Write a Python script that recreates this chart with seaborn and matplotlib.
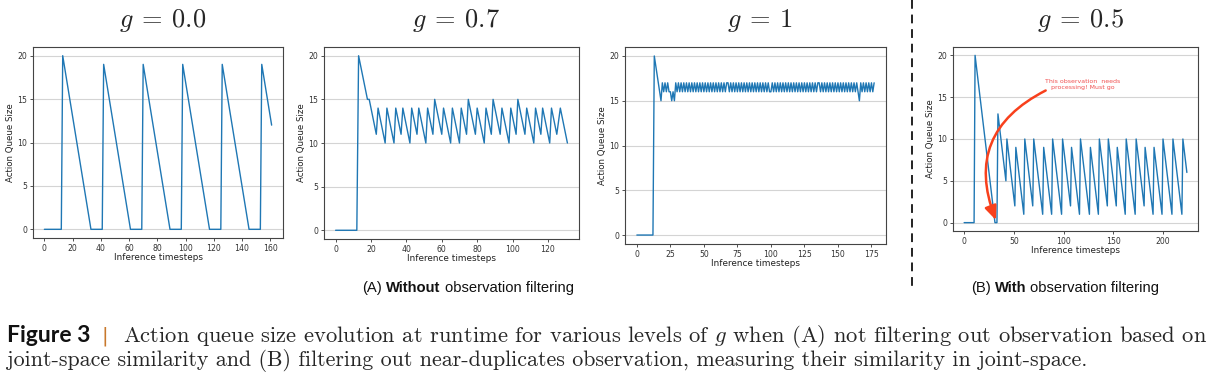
import numpy as np
import matplotlib.pyplot as plt
from matplotlib.lines import Line2D
from matplotlib.offsetbox import TextArea, HPacker, AnnotationBbox
import seaborn as sns

# (A) g = 0.0 : vertices of the queue-size trace (timestep, size)
g00_t = [0, 12, 13, 33, 41, 42, 61, 69, 70, 89, 97, 98, 117, 125, 126, 145, 153, 154, 161]
g00_q = [0, 0, 20, 0, 0, 19, 0, 0, 19, 0, 0, 19, 0, 0, 19, 0, 0, 19, 12]

# (A) g = 0.7
g07_t = [0, 12, 13, 18, 19, 23, 24, 28, 29, 33, 34, 37, 38, 42, 43, 46, 47, 51, 52, 55,
         56, 60, 61, 65, 66, 70, 71, 74, 75, 79, 80, 84, 85, 88, 89, 93, 94, 98, 99, 102,
         103, 107, 108, 112, 113, 116, 117, 121, 122, 125, 127, 131]
g07_q = [0, 0, 20, 15, 15, 11, 14, 10, 14, 10, 14, 11, 14, 10, 14, 11, 14, 10, 14, 11,
         15, 11, 14, 10, 14, 10, 14, 11, 15, 11, 14, 10, 14, 11, 15, 11, 14, 10, 14, 11,
         15, 11, 14, 10, 14, 11, 14, 10, 14, 11, 14, 10]

# (A) g = 1 : one value per timestep
g10_q = [0, 0, 0, 0, 0, 0, 0, 0, 0, 0,
         0, 0, 0, 20, 19, 18, 17, 16, 15, 17,
         16, 17, 16, 17, 16, 16, 15, 16, 15, 17,
         16, 17, 16, 17, 16, 17, 16, 17, 16, 17,
         16, 17, 16, 17, 16, 17, 16, 17, 16, 17,
         16, 17, 16, 17, 16, 17, 16, 17, 16, 17,
         16, 17, 16, 17, 16, 17, 16, 17, 17, 16,
         17, 16, 17, 16, 17, 16, 17, 16, 17, 16,
         17, 16, 17, 16, 17, 16, 17, 16, 17, 16,
         17, 16, 17, 16, 17, 16, 17, 16, 17, 16,
         16, 17, 16, 17, 16, 17, 16, 17, 16, 17,
         16, 17, 16, 17, 16, 17, 16, 17, 16, 17,
         16, 17, 16, 17, 16, 17, 16, 17, 16, 17,
         16, 17, 16, 17, 16, 17, 17, 16, 17, 16,
         17, 16, 17, 16, 17, 16, 17, 16, 17, 16,
         17, 16, 17, 16, 17, 16, 17, 16, 17, 16,
         17, 16, 17, 16, 17, 16, 15, 17, 16, 17,
         16, 17, 16, 17, 16, 17, 16, 17]
g10_t = np.arange(len(g10_q))

# (B) g = 0.5 with observation filtering
g05_t = [0, 10, 11, 31, 33, 34, 42, 43, 51, 52, 60, 61, 69, 70, 79, 80, 88, 89, 98, 99,
         107, 108, 116, 117, 126, 127, 135, 136, 144, 145, 153, 154, 162, 163, 172, 173,
         181, 182, 190, 191, 199, 200, 209, 210, 219, 220, 224]
g05_q = [0, 0, 20, 0, 0, 13, 5, 10, 2, 9, 1, 10, 2, 10, 1, 9, 1, 10, 1, 10,
         2, 9, 1, 10, 1, 9, 1, 10, 2, 10, 2, 9, 1, 10, 1, 10,
         2, 9, 1, 9, 1, 10, 1, 10, 1, 10, 6]

titles = [r"$g\:=\:0.0$", r"$g\:=\:0.7$", r"$g\:=\:1$", r"$g\:=\:0.5$"]

sns.set_theme(style="whitegrid")
plt.rcParams["mathtext.fontset"] = "cm"
plt.rcParams["font.family"] = ["DejaVu Sans"]

W, H = 1227, 378
fig = plt.figure(figsize=(W / 100, H / 100), dpi=100)

# axes boxes in pixels: left, right, top, bottom
boxes = [(33, 283, 47, 238), (324, 579, 47, 239), (625, 886, 47, 244), (953, 1198, 47, 231)]
series = [(g00_t, g00_q), (g07_t, g07_q), (g10_t, g10_q), (g05_t, g05_q)]

axes = []
for (l, r, t, b), (xs, ys), title in zip(boxes, series, titles):
    ax = fig.add_axes([l / W, (H - b) / H, (r - l) / W, (b - t) / H])
    sns.lineplot(x=xs, y=ys, ax=ax, color="#1f77b4", lw=1.0, estimator=None, sort=False)
    ax.set_yticks([0, 5, 10, 15, 20])
    ax.grid(axis="x", visible=False)
    ax.grid(axis="y", color="#d4d4d4", lw=0.8)
    for s in ax.spines.values():
        s.set_color("#444444")
        s.set_linewidth(0.8)
    ax.tick_params(axis="both", labelsize=5.6, colors="#333333", length=2.5, width=0.6,
                   direction="out", bottom=True, left=True, pad=1.5)
    ax.set_xlabel("Inference timesteps", fontsize=6.4, color="#222222", labelpad=0.5)
    ax.set_ylabel("Action Queue Size", fontsize=6.2, color="#222222", labelpad=2)
    fig.text((l + r) / 2 / W + 0.004, 1 - 20 / H, title, fontsize=19, ha="center", va="center")
    axes.append(ax)

ax4 = axes[3]
ax4.text(119, 16.5, "This observation  needs\nprocessing! Must go", fontsize=4.5,
         color="#f05050", ha="center", va="center", linespacing=1.2)
ax4.annotate("", xy=(32, 0.3), xytext=(82, 15.8),
             arrowprops=dict(arrowstyle="-|>,head_length=0.7,head_width=0.3",
                             color="#f8401c", lw=1.8, connectionstyle="arc3,rad=0.45",
                             shrinkA=0, shrinkB=0))

# separator between (A) and (B)
fig.add_artist(Line2D([912 / W, 912 / W], [1, 1 - 288 / H], color="#222222", lw=1.4,
                      ls=(0, (4.5, 3)), transform=fig.transFigure))


def sub_caption(parts, x_px):
    sub_font = ["Liberation Sans", "DejaVu Sans"]
    areas = [TextArea(txt, textprops=dict(fontsize=10.6, family=sub_font, fontweight=wt,
                                          color="#111111"))
             for txt, wt in parts]
    box = HPacker(children=areas, pad=0, sep=3, align="baseline")
    ab = AnnotationBbox(box, (x_px / W, 1 - 288 / H), xycoords="figure fraction",
                        frameon=False, box_alignment=(0.5, 0.5))
    fig.add_artist(ab)


sub_caption([("(A)", "normal"), ("Without", "bold"), ("observation filtering", "normal")], 468)
sub_caption([("(B)", "normal"), ("With", "bold"), ("observation filtering", "normal")], 1065)

# figure caption
fig.text(7 / W, 1 - 336 / H, "Figure 3", fontsize=16.5, fontweight="bold",
         family=["Lato", "DejaVu Sans"], color="#111111", va="center", ha="left")
fig.text(102 / W, 1 - 336 / H, "|", fontsize=14, color="#c8782c", va="center", ha="left",
         family=["DejaVu Sans"])
fig.text(123 / W, 1 - 336 / H,
         r"Action queue size evolution at runtime for various levels of $g$ when (A) not filtering out observation based on",
         fontsize=16.25, family=["cmr10"], va="center", ha="left")
fig.text(7 / W, 1 - 361 / H,
         "joint-space similarity and (B) filtering out near-duplicates observation, measuring their similarity in joint-space.",
         fontsize=15.85, family=["cmr10"], va="center", ha="left")

fig.savefig("out.png", dpi=100)
